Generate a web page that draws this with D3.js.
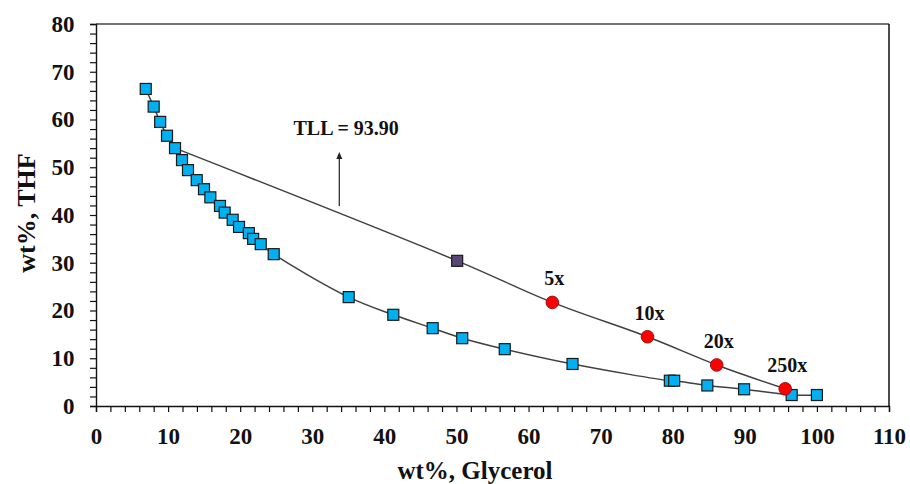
<!DOCTYPE html>
<html>
<head>
<meta charset="utf-8">
<script src="https://cdn.jsdelivr.net/npm/d3@7"></script>
<style>
  html, body { margin: 0; padding: 0; background: #fff; }
  svg { display: block; }
  text { font-family: "Liberation Serif", "Times New Roman", serif; font-weight: bold; fill: #111; }
</style>
</head>
<body>
<svg id="chart" width="910" height="484"></svg>
<script>
// Binodal curve (blue squares)
const glycerol = [6.9, 8.0, 8.9, 9.85, 10.96, 11.93, 12.76, 13.97, 14.98, 15.86, 17.2, 17.85, 18.96, 19.84, 21.2, 21.8, 22.85, 24.65, 35.05, 41.24, 46.7, 50.8, 56.7, 66.1, 79.6, 80.2, 84.8, 89.9, 96.5, 100.0];
const thf      = [66.4, 62.7, 59.5, 56.6, 54.0, 51.5, 49.4, 47.3, 45.4, 43.7, 41.9, 40.5, 39.0, 37.5, 36.2, 35.0, 33.9, 31.8, 22.8, 19.1, 16.3, 14.2, 11.9, 8.8, 5.3, 5.3, 4.3, 3.5, 2.3, 2.3];

// Tie line
const tieGlycerol = [10.96, 50.1, 63.3, 76.5, 86.1, 95.6];
const tieTHF      = [54.0, 30.4, 21.7, 14.5, 8.6, 3.6];

// Feed point (purple square)
const feedGlycerol = [50.1];
const feedTHF      = [30.4];

// Dilution points (red circles)
const dilGlycerol = [63.3, 76.5, 86.1, 95.6];
const dilTHF      = [21.7, 14.5, 8.6, 3.6];
const dilLabels   = ["5x", "10x", "20x", "250x"];

// Axis ticks
const xTickLabels = [0, 10, 20, 30, 40, 50, 60, 70, 80, 90, 100, 110];
const yTickLabels = [0, 10, 20, 30, 40, 50, 60, 70, 80];

// Annotation
const tllText = "TLL = 93.90";
const arrowX = 33.75, arrowY0 = 41.9, arrowY1 = 53.2;
const tllX = 34.7, tllY = 56.75;

const svg = d3.select("#chart");
const x = d3.scaleLinear().domain([0, 110]).range([96, 889]);
const y = d3.scaleLinear().domain([0, 80]).range([406, 24]);

// Frame top/right
svg.append("line").attr("x1", x(0)).attr("x2", x(110)).attr("y1", y(80)).attr("y2", y(80))
  .attr("stroke", "#444").attr("stroke-width", 1.5);
svg.append("line").attr("x1", x(110)).attr("x2", x(110)).attr("y1", y(80)).attr("y2", y(0))
  .attr("stroke", "#111").attr("stroke-width", 1.5);

// X axis
const xAxis = d3.axisBottom(x).tickValues(d3.range(0, 111, 2)).tickSize(6).tickPadding(15.5)
  .tickFormat(d => xTickLabels.includes(d) ? d : "");
const gx = svg.append("g").attr("transform", `translate(0,${y(0)})`).call(xAxis);
gx.selectAll("text").style("font-size", "23px");

// Y axis
const yAxis = d3.axisLeft(y).tickValues(d3.range(0, 81, 2)).tickSize(6).tickPadding(15.5)
  .tickFormat(d => yTickLabels.includes(d) ? d : "");
const gy = svg.append("g").attr("transform", `translate(${x(0)},0)`).call(yAxis);
gy.selectAll("text").style("font-size", "23px");

[gx, gy].forEach(g => {
  g.select(".domain").attr("stroke", "#111").attr("stroke-width", 1.4);
  g.selectAll(".tick line").attr("stroke", "#111").attr("stroke-width", 1.2);
  g.selectAll("text").attr("fill", "#111").attr("font-family", null);
});

// Axis titles
svg.append("text").attr("x", 475).attr("y", 479).attr("text-anchor", "middle")
  .style("font-size", "25px").text("wt%, Glycerol");
svg.append("text").attr("transform", "translate(35,213) rotate(-90)").attr("text-anchor", "middle")
  .style("font-size", "26px").text("wt%, THF");

const lineGen = d3.line().x(d => x(d[0])).y(d => y(d[1])).curve(d3.curveCatmullRom.alpha(0.5));

// Binodal curve line
const binodal = glycerol.map((g, i) => [g, thf[i]]);
svg.append("path").datum(binodal).attr("d", lineGen).attr("fill", "none")
  .attr("stroke", "#404040").attr("stroke-width", 1.5);

// Tie line
const tie = tieGlycerol.map((g, i) => [g, tieTHF[i]]);
svg.append("path").datum(tie).attr("d", lineGen).attr("fill", "none")
  .attr("stroke", "#404040").attr("stroke-width", 1.5);

// Blue squares
const sq = 11;
svg.append("g").selectAll("rect").data(binodal).join("rect")
  .attr("x", d => x(d[0]) - sq / 2).attr("y", d => y(d[1]) - sq / 2)
  .attr("width", sq).attr("height", sq)
  .attr("fill", "#00B0F0").attr("stroke", "#1a1a1a").attr("stroke-width", 1.2);

// Feed point
svg.append("g").selectAll("rect").data(feedGlycerol.map((g, i) => [g, feedTHF[i]])).join("rect")
  .attr("x", d => x(d[0]) - sq / 2).attr("y", d => y(d[1]) - sq / 2)
  .attr("width", sq).attr("height", sq)
  .attr("fill", "#574676").attr("stroke", "#1a1a1a").attr("stroke-width", 1.2);

// Red circles
const dil = dilGlycerol.map((g, i) => [g, dilTHF[i], dilLabels[i]]);
svg.append("g").selectAll("circle").data(dil).join("circle")
  .attr("cx", d => x(d[0])).attr("cy", d => y(d[1])).attr("r", 6.3)
  .attr("fill", "#FF0000").attr("stroke", "#8b1a1a").attr("stroke-width", 1);

svg.append("g").selectAll("text").data(dil).join("text")
  .attr("x", d => x(d[0]) + 2).attr("y", d => y(d[1]) - 17)
  .attr("text-anchor", "middle").style("font-size", "20px").text(d => d[2]);

// Arrow annotation
svg.append("line").attr("x1", x(arrowX)).attr("x2", x(arrowX))
  .attr("y1", y(arrowY0)).attr("y2", y(arrowY1) + 6)
  .attr("stroke", "#333").attr("stroke-width", 1.3);
svg.append("path").attr("d", `M${x(arrowX) - 3},${y(arrowY1) + 7} L${x(arrowX)},${y(arrowY1)} L${x(arrowX) + 3},${y(arrowY1) + 7} Z`)
  .attr("fill", "#222");

svg.append("text").attr("x", x(tllX)).attr("y", y(tllY)).attr("text-anchor", "middle")
  .style("font-size", "20px").text(tllText);
</script>
</body>
</html>
